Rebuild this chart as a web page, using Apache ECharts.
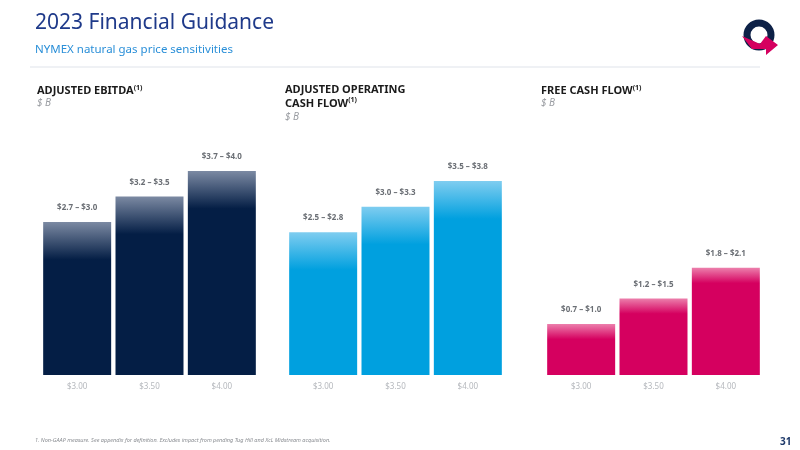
<!DOCTYPE html><html><head><meta charset="utf-8"><script src="https://cdn.jsdelivr.net/npm/echarts@6/dist/echarts.min.js"></script>
<style>body{margin:0}#c{width:800px;height:450px}</style></head><body><div id="c"></div><script>
const categories=['$3.00','$3.50','$4.00'];
const ebitdaLow=[2.7,3.2,3.7], ebitdaHigh=[3.0,3.5,4.0];
const ocfLow=[2.5,3.0,3.5], ocfHigh=[2.8,3.3,3.8];
const fcfLow=[0.7,1.2,1.8], fcfHigh=[1.0,1.5,2.1];
const panels=[
 {low:ebitdaLow,high:ebitdaHigh,left:41,dark:'#041e45',light:'#7c8aa3',fade:0.74},
 {low:ocfLow,high:ocfHigh,left:287,dark:'#00a0df',light:'#7fcdf0',fade:0.74},
 {low:fcfLow,high:fcfHigh,left:545,dark:'#d5005f',light:'#ec7fac',fade:0.3}];
const f='"Noto Sans", sans-serif';
const grid=[],xAxis=[],yAxis=[],series=[];
panels.forEach((p,i)=>{
 grid.push({left:p.left,width:217,top:125,bottom:75});
 xAxis.push({gridIndex:i,type:'category',data:categories,axisLine:{show:false},axisTick:{show:false},axisLabel:{color:'#b5b8bd',fontSize:8,fontFamily:f,margin:8}});
 yAxis.push({gridIndex:i,min:0,max:4.9,show:false});
 series.push({type:'bar',xAxisIndex:i,yAxisIndex:i,barCategoryGap:'6%',
  data:p.high.map((h,j)=>({value:h,itemStyle:{color:{type:'linear',x:0,y:0,x2:0,y2:1,colorStops:[{offset:0,color:p.light},{offset:Math.min(p.fade/h,1),color:p.dark},{offset:1,color:p.dark}]}},
   label:{show:true,position:'top',distance:10,formatter:'$'+p.low[j].toFixed(1)+' – $'+h.toFixed(1),color:'#6b6f75',fontSize:8,fontFamily:f,fontWeight:'bold'}}))});
});
const sub=(x,y,t)=>({type:'text',left:x,top:y,style:{text:t,font:'italic 10px '+f,fill:'#9a9da2'}});
const hd=(x,y,t)=>({type:'text',left:x,top:y,style:{rich:{a:{fontSize:11,fontWeight:'bold',fontFamily:f,fill:'#1b1b1b',lineHeight:14},s:{fontSize:7,fontWeight:'bold',fontFamily:f,fill:'#1b1b1b',verticalAlign:'top',padding:[0,0,6,0]}},text:t}});
const graphic=[
 {type:'text',left:35,top:13,style:{text:'2023 Financial Guidance',font:'21px '+f,fill:'#1f3a8a'}},
 {type:'text',left:35,top:44,style:{text:'NYMEX natural gas price sensitivities',font:'11.5px '+f,fill:'#2a8fd8'}},
 {type:'line',shape:{x1:30,y1:67,x2:760,y2:67},style:{stroke:'#dfe3ea',lineWidth:1}},
 hd(37,84,'{a|ADJUSTED EBITDA}{s|(1)}'),sub(37,98,'$ B'),
 hd(285,84,'{a|ADJUSTED OPERATING}\n{a|CASH FLOW}{s|(1)}'),sub(285,112,'$ B'),
 hd(541,84,'{a|FREE CASH FLOW}{s|(1)}'),sub(541,98,'$ B'),
 {type:'text',left:35,top:437,style:{text:'1. Non-GAAP measure. See appendix for definition. Excludes impact from pending Tug Hill and XcL Midstream acquisition.',font:'italic 5.5px '+f,fill:'#8a8d92'}},
 {type:'text',left:780,top:437,style:{text:'31',font:'bold 10px '+f,fill:'#1f3a6a'}},
 {type:'circle',shape:{cx:759,cy:35,r:12},style:{fill:'none',stroke:'#0d2147',lineWidth:7}},
 {type:'polygon',shape:{points:[[742,36],[760,44],[766,36],[778,45],[766,55],[766,49],[752,49]]},style:{fill:'#d5005f'}}
];
const ch=echarts.init(document.getElementById('c'));
ch.setOption({backgroundColor:'#fff',animation:false,grid,xAxis,yAxis,series,graphic});
</script></body></html>
